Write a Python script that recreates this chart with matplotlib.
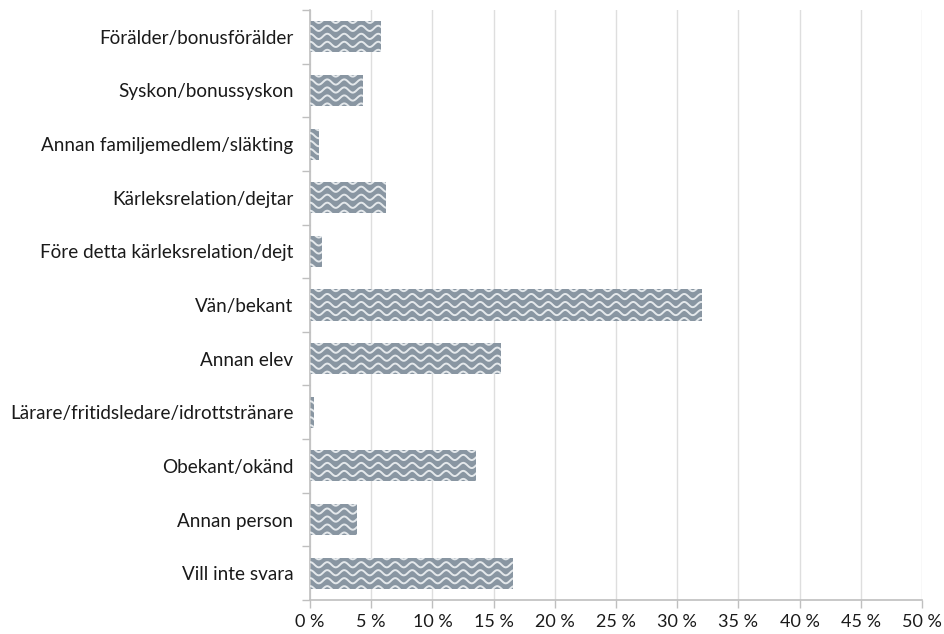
import matplotlib
matplotlib.use("Agg")
import matplotlib.pyplot as plt
import numpy as np
from matplotlib.collections import LineCollection
from matplotlib.transforms import IdentityTransform
from matplotlib.ticker import FixedLocator, FuncFormatter

categories = [
    "Förälder/bonusförälder",
    "Syskon/bonussyskon",
    "Annan familjemedlem/släkting",
    "Kärleksrelation/dejtar",
    "Före detta kärleksrelation/dejt",
    "Vän/bekant",
    "Annan elev",
    "Lärare/fritidsledare/idrottstränare",
    "Obekant/okänd",
    "Annan person",
    "Vill inte svara",
]
values = [5.8, 4.3, 0.7, 6.2, 1.0, 32.0, 15.6, 0.3, 13.6, 3.8, 16.6]
xticks = list(range(0, 51, 5))

plt.rcParams['font.family'] = ['Lato', 'DejaVu Sans']

fig = plt.figure(figsize=(9.44, 6.34), dpi=100)
ax = fig.add_axes([310 / 944, 1 - 600 / 634, 612 / 944, 590 / 634])

fill = '#8996a2'
wave = '#e4e8eb'
grid = '#dedede'
axis_col = '#bfbfbf'
text_col = '#1a1a1a'

y = np.arange(len(categories))
bars = ax.barh(y, values, height=0.58, color=fill, zorder=2)

ax.set_xlim(0, 50)
ax.set_ylim(len(categories) - 0.5, -0.5)
ax.set_xticks(xticks)
ax.xaxis.set_major_formatter(FuncFormatter(lambda v, p: f"{int(v)} %"))
ax.set_yticks(y)
ax.set_yticklabels(categories)
ax.yaxis.set_minor_locator(FixedLocator(np.arange(-0.5, len(categories), 1)))
ax.tick_params(axis='y', which='major', length=0, pad=12, labelsize=13.6, labelcolor=text_col)
ax.tick_params(axis='y', which='minor', length=6, color=axis_col, width=1)
ax.tick_params(axis='x', which='major', length=6, color=axis_col, width=1,
               pad=4, labelsize=13, labelcolor=text_col)
ax.grid(axis='x', color=grid, linewidth=1, zorder=0)
for s in ['top', 'right']:
    ax.spines[s].set_visible(False)
for s in ['left', 'bottom']:
    ax.spines[s].set_color(axis_col)
    ax.spines[s].set_linewidth(1.2)

# wavy pattern inside the bars, drawn in pixel space and clipped to each bar
fig.canvas.draw()
period = 17.0
amp = 2.6
gap = 8.0
for b in bars:
    ext = b.get_window_extent()
    if ext.width <= 0:
        continue
    xs = np.arange(ext.x0 - period, ext.x1 + period, 0.5)
    segs = []
    r = ext.y0 - gap
    while r < ext.y1 + gap:
        ys = r + amp * np.sin(2 * np.pi * xs / period)
        segs.append(np.column_stack([xs, ys]))
        r += gap
    lc = LineCollection(segs, colors=wave, linewidths=1.4, transform=IdentityTransform(), zorder=3)
    lc.set_clip_path(b)
    fig.add_artist(lc)

fig.savefig("out.png", dpi=100)
